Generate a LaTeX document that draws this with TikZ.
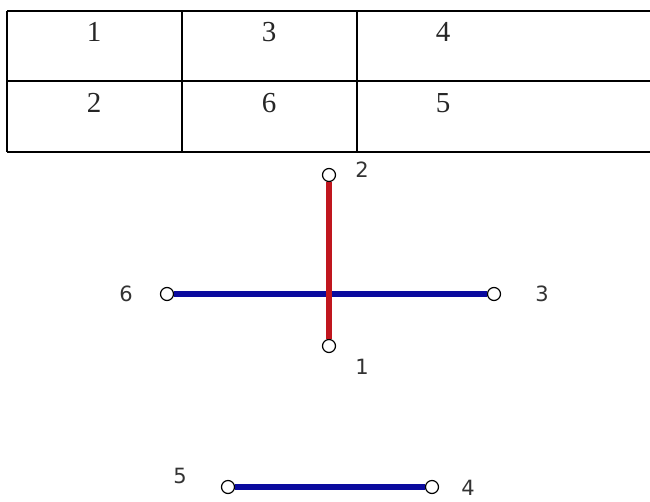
\documentclass[tikz,border=0pt]{standalone}
\usepackage{fontspec}
\newfontfamily\cellfont{Liberation Serif}
\newfontfamily\labelfont{DejaVu Sans}
\usepackage{xcolor}
\definecolor{edgered}{HTML}{C0161E}
\definecolor{edgeblue}{HTML}{0A0A9E}
\begin{document}
\begin{tikzpicture}[x=1pt,y=-1pt,
  cell/.style={font=\fontsize{29}{29}\cellfont,text=black!85},
  lbl/.style={font=\fontsize{21}{21}\labelfont,text=black!80},
  vtx/.style={circle,draw,fill=white,inner sep=0pt,minimum size=13pt,line width=1.2pt},
  link/.style={line width=6pt}]
\useasboundingbox (0,0) rectangle (650,501);
% table
\draw[line width=2.4pt] (7,11) -- (652,11) (7,152) -- (652,152) (7,11) -- (7,152);
\draw[line width=2.2pt] (7,81) -- (652,81) (182,11) -- (182,152) (357,11) -- (357,152);
\node[cell] (c1) at (94,32) {1};
\node[cell] (c3) at (269,32) {3};
\node[cell] (c4) at (443,32) {4};
\node[cell] (c2) at (94,103) {2};
\node[cell] (c6) at (269,103) {6};
\node[cell] (c5) at (443,103) {5};
% vertices
\node[vtx] (v2) at (329,175) {};
\node[vtx] (v1) at (329,346) {};
\node[vtx] (v6) at (167,294) {};
\node[vtx] (v3) at (494,294) {};
\node[vtx] (v5) at (228,487) {};
\node[vtx] (v4) at (432,487) {};
\node[lbl] at (362,170) {2};
\node[lbl] at (362,367) {1};
\node[lbl] at (126,294) {6};
\node[lbl] at (542,294) {3};
\node[lbl] at (180,476) {5};
\node[lbl] at (468,488) {4};
% edges
\draw[link,edgeblue] (v6) -- (v3);
\draw[link,edgered] (v2) -- (v1);
\draw[link,edgeblue] (v5) -- (v4);
\end{tikzpicture}
\end{document}
